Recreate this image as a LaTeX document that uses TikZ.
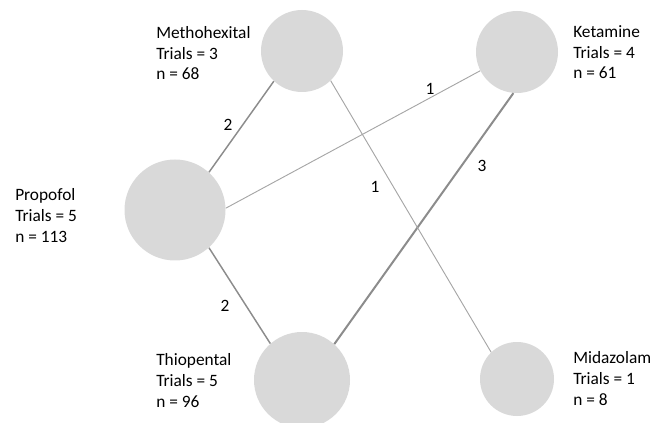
\documentclass[tikz,border=0pt]{standalone}
\usepackage{fontspec}
\setmainfont{Carlito}
\usepackage{tikz}
\usetikzlibrary{positioning}
\definecolor{nodeGray}{HTML}{D9D9D9}
\definecolor{linkGray}{HTML}{8C8C8C}
\definecolor{thinGray}{HTML}{A6A6A6}
\tikzset{
    drug/.style={circle, fill=nodeGray, inner sep=0pt, minimum size=#1},
    drugText/.style={anchor=base west, inner sep=0pt, align=left, font=\fontsize{13}{15.4}\selectfont},
    countText/.style={inner sep=1pt, font=\fontsize{13}{15.4}\selectfont},
    link/.style={draw=linkGray, line width=#1},
    thinLink/.style={draw=thinGray, line width=0.7pt}
}

\begin{document}
\begin{tikzpicture}[x=0.75pt, y=0.75pt]
			\useasboundingbox (0,0) rectangle (654,422);
			\node[drug=61.5pt] (metho) at (302,371) {};
			\node[drug=61.5pt] (keta) at (517,370) {};
			\node[drug=75.75pt] (propo) at (175,212) {};
			\node[drug=72pt] (thio) at (302,42) {};
			\node[drug=55.5pt] (mida) at (517,43) {};
			\draw[link=1.1pt] (metho.-133) -- (propo.48);
			\draw[link=1.1pt] (propo.-48) -- (thio.131);
			\draw[link=1.5pt] (keta.-95) -- (thio.48);
			\draw[thinLink] (propo.2) -- (keta.-153);
			\draw[thinLink] (metho.-46) -- (mida.134);
			\node[countText] (mpCount) at (228,297) {2};
			\node[countText] (ptCount) at (225,116) {2};
			\node[countText] (ktCount) at (482,256) {3};
			\node[countText] (pkCount) at (430,333) {1};
			\node[countText] (mmCount) at (375,235) {1};
			\node[drugText] (methoText) at (156,342) {Methohexital\\Trials = 3\\n = 68};
			\node[drugText] (ketaText) at (573,343) {Ketamine\\Trials = 4\\n = 61};
			\node[drugText] (propoText) at (15,180) {Propofol\\Trials = 5\\n = 113};
			\node[drugText] (thioText) at (156,15) {Thiopental\\Trials = 5\\n = 96};
			\node[drugText] (midaText) at (573,17) {Midazolam\\Trials = 1\\n = 8};
	\end{tikzpicture}
\end{document}
